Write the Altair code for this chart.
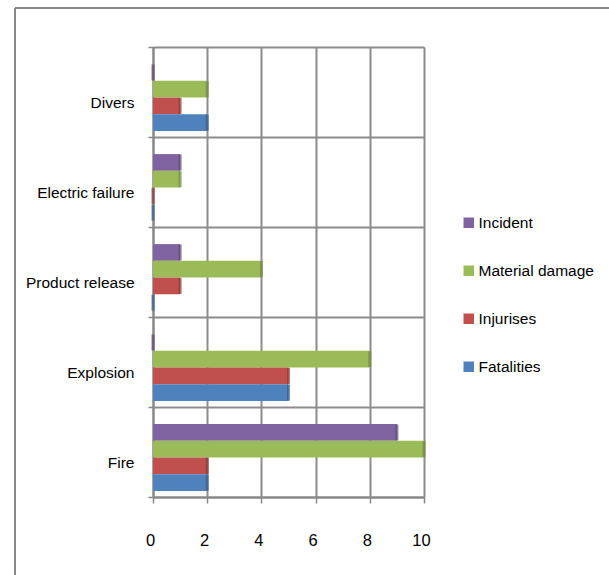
import altair as alt
import pandas as pd

categories = ["Divers", "Electric failure", "Product release", "Explosion", "Fire"]
series = ["Incident", "Material damage", "Injurises", "Fatalities"]
fatalities = [2, 0, 0, 5, 2]
injurises = [1, 0, 1, 5, 2]
material_damage = [2, 1, 4, 8, 10]
incident = [0, 1, 1, 0, 9]
x_ticks = [0, 2, 4, 6, 8, 10]

colors = ["#8064A2", "#9BBB59", "#C0504D", "#4F81BD"]
dark = ["#5C4776", "#71893F", "#8C3836", "#385D8A"]

rows = []
for i, c in enumerate(categories):
    for s, vals in zip(series, [incident, material_damage, injurises, fatalities]):
        rows.append({"category": c, "series": s, "value": vals[i]})
df = pd.DataFrame(rows)

FONT = "Liberation Sans, Arial, sans-serif"
FS = 15.5

y_enc = alt.Y("category:N", sort=categories,
              scale=alt.Scale(paddingInner=0, paddingOuter=0),
              axis=alt.Axis(title=None, tickBand="extent", labelFontSize=FS,
                            labelFont=FONT, labelColor="#000", labelPadding=14,
                            labelOffset=10,
                            tickSize=5, tickColor="#888", tickWidth=1.5,
                            domainColor="#888", domainWidth=2,
                            gridColor="#8c8c8c", gridWidth=2, grid=True))
yoff = alt.YOffset("series:N", sort=series,
                   scale=alt.Scale(paddingOuter=0.69, paddingInner=0, align=0.74))
x_enc = alt.X("value:Q", scale=alt.Scale(domain=[0, 10], nice=False),
              axis=alt.Axis(title=None, values=x_ticks, labelFontSize=FS + 1,
                            labelFont=FONT, labelColor="#000", labelPadding=29,
                            labelFlush=False, labelOffset=-3,
                            tickSize=6, tickColor="#888", tickWidth=1.5,
                            domainColor="#888", domainWidth=2,
                            gridColor="#8c8c8c", gridWidth=2, grid=True))
color = alt.Color("series:N", sort=series,
                  scale=alt.Scale(domain=series, range=colors),
                  legend=alt.Legend(title=None, orient="none", legendX=308, legendY=168,
                                    labelFontSize=FS, labelFont=FONT, labelColor="#000",
                                    symbolType="square", symbolSize=110, labelOffset=2,
                                    symbolStrokeWidth=0, rowPadding=31))

bars = alt.Chart(df).mark_bar(size=16.7).encode(y=y_enc, yOffset=yoff, x=x_enc, color=color)
caps = alt.Chart(df).mark_tick(size=16, thickness=3).encode(
    y=alt.Y("category:N", sort=categories),
    yOffset=alt.YOffset("series:N", sort=series),
    x=alt.X("value:Q"),
    color=alt.Color("series:N", sort=series, scale=alt.Scale(domain=series, range=dark), legend=None),
)

frame_v = alt.Chart(df).mark_rule(color="#888", strokeWidth=2, clip=False).encode(
    x=alt.value(-138), y=alt.value(-39), y2=alt.value(540))
frame_h = alt.Chart(df).mark_rule(color="#888", strokeWidth=2, clip=False).encode(
    x=alt.value(-138), x2=alt.value(460), y=alt.value(-39))

chart = alt.layer(bars, caps, frame_v, frame_h).resolve_scale(color="independent").properties(
    width=271, height=450,
    autosize=alt.AutoSizeParams(type="none"),
    padding={"left": 153, "top": 47, "right": 185, "bottom": 78},
).configure_view(stroke="#888", strokeWidth=2).configure(background="white")

chart.save("out.html", embed_options={"renderer": "svg", "actions": False})
